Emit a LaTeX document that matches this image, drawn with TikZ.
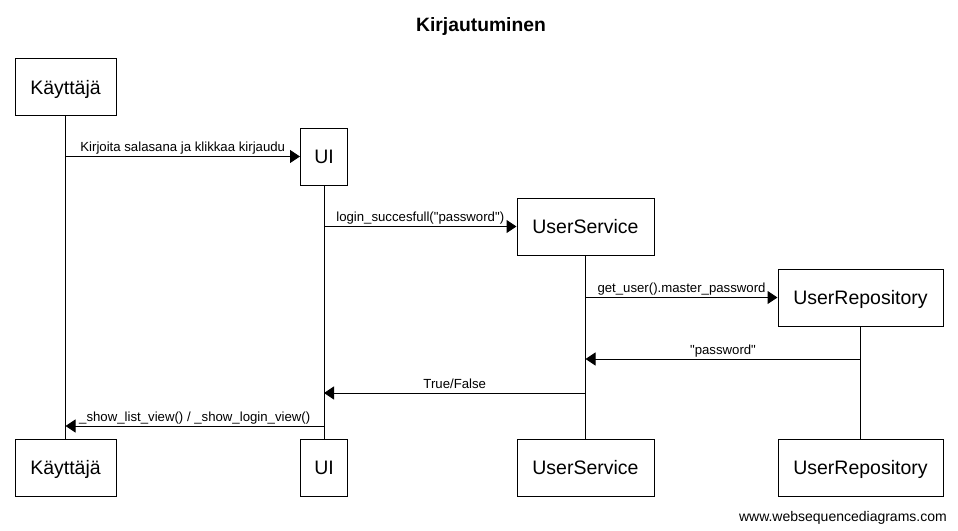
\documentclass[tikz,border=0pt]{standalone}
\usepackage{fontspec}
\newfontfamily\lib{Liberation Sans}
\usetikzlibrary{arrows.meta}
\begin{document}
\begin{tikzpicture}[x=1pt,y=-1pt,
  actor/.style={draw, line width=1pt, minimum height=57pt, inner sep=0pt,
    font=\lib\fontsize{19.5}{22}\selectfont, text height=14pt, text depth=0pt},
  msg/.style={line width=1pt, -{Triangle[length=10pt,width=13pt]}},
  lbl/.style={font=\lib\fontsize{13.2}{15}\selectfont, anchor=base, yshift=5pt, inner sep=0pt},
  life/.style={line width=1pt}]
\fill[white] (0,0) rectangle (958,530);
\useasboundingbox (0,0) rectangle (958,530);

\node[font=\lib\bfseries\fontsize{19.3}{22}\selectfont, anchor=base, inner sep=0pt] (title) at (481,31.5) {Kirjautuminen};

\node[actor, minimum width=101pt] (Kt) at (65.5,87) {Käyttäjä};
\node[actor, minimum width=47pt]  (UIt) at (324,156.5) {UI};
\node[actor, minimum width=137pt] (USt) at (585.5,226.5) {UserService};
\node[actor, minimum width=165pt] (URt) at (860.5,297.5) {UserRepository};

\node[actor, minimum width=101pt] (Kb) at (65.5,467.5) {Käyttäjä};
\node[actor, minimum width=47pt]  (UIb) at (324,467.5) {UI};
\node[actor, minimum width=137pt] (USb) at (585.5,467.5) {UserService};
\node[actor, minimum width=165pt] (URb) at (860.5,467.5) {UserRepository};

\draw[life] (Kt.south) -- (Kb.north);
\draw[life] (UIt.south) -- (UIb.north);
\draw[life] (USt.south) -- (USb.north);
\draw[life] (URt.south) -- (URb.north);

\coordinate (y4) at (0,359);
\coordinate (y5) at (0,393);
\coordinate (y6) at (0,426);

\draw[msg] (Kt.south |- UIt.west) -- node[lbl] {Kirjoita salasana ja klikkaa kirjaudu} (UIt.west);
\draw[msg] (UIt.south |- USt.west) -- node[lbl] {login\_succesfull("password")} (USt.west);
\draw[msg] (USt.south |- URt.west) -- node[lbl] {get\_user().master\_password} (URt.west);
\draw[msg] (URt.south |- y4) -- node[lbl] {"password"} (USt.south |- y4);
\draw[msg] (USt.south |- y5) -- node[lbl] {True/False} (UIt.south |- y5);
\draw[msg] (UIt.south |- y6) -- node[lbl] {\_show\_list\_view() / \_show\_login\_view()} (Kt.south |- y6);

\node[font=\lib\fontsize{14}{16}\selectfont, anchor=base east, inner sep=0pt] (footer) at (947,521) {www.websequencediagrams.com};
\end{tikzpicture}
\end{document}
